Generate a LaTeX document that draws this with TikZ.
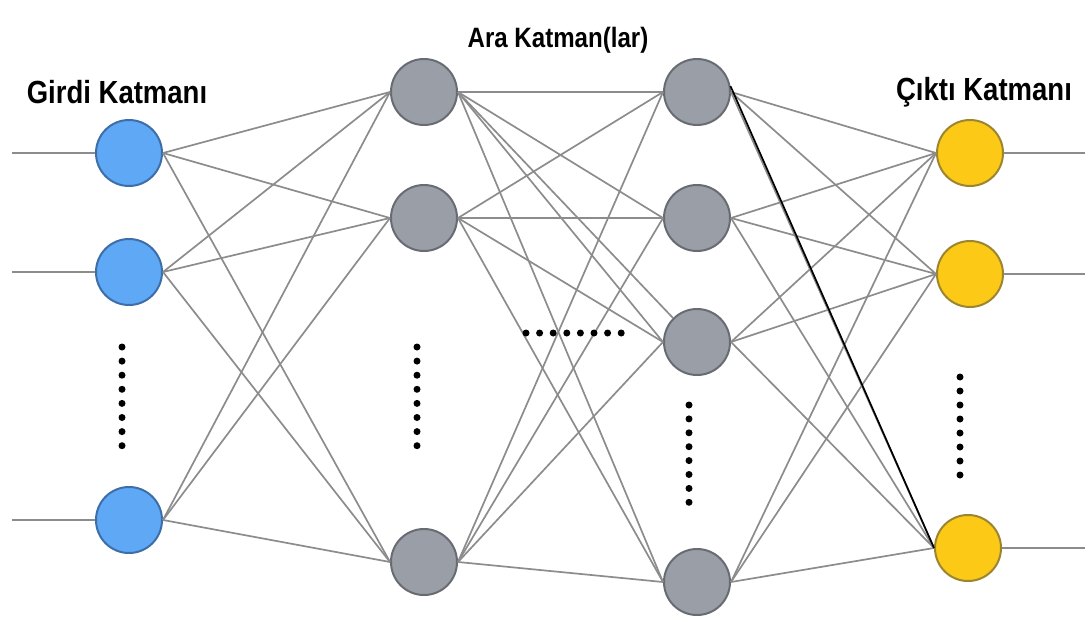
\documentclass[tikz,border=0pt]{standalone}
\usepackage{fontspec}
\usepackage{graphicx}
\setmainfont{Liberation Sans}

\definecolor{inpfill}{HTML}{5EA8F5}
\definecolor{inpedge}{HTML}{3D6EA8}
\definecolor{hidfill}{HTML}{9A9FA7}
\definecolor{hidedge}{HTML}{686C72}
\definecolor{outfill}{HTML}{FCCA16}
\definecolor{outedge}{HTML}{9C8530}
\definecolor{linkgray}{HTML}{8C8C8C}

% narrow bold heading
\newcommand{\layername}[2]{\scalebox{0.86}[1]{\bfseries\fontsize{#1}{#1}\selectfont #2}}

\begin{document}
\begin{tikzpicture}[x=0.5pt,y=-0.5pt,
    unit/.style={circle,line width=1pt,minimum size=33pt,inner sep=0pt},
    inp/.style={unit,draw=inpedge,fill=inpfill},
    hid/.style={unit,draw=hidedge,fill=hidfill},
    outp/.style={unit,draw=outedge,fill=outfill},
    link/.style={draw=linkgray,line width=0.85pt}
]
\useasboundingbox (0,0) rectangle (1092,621);

% layers
\node[inp] (i1) at (129,153) {};
\node[inp] (i2) at (129,272) {};
\node[inp] (i3) at (129,520) {};

\node[hid] (h1a) at (424,92) {};
\node[hid] (h1b) at (424,218) {};
\node[hid] (h1c) at (424,562) {};

\node[hid] (h2a) at (697,92) {};
\node[hid] (h2b) at (697,218) {};
\node[hid] (h2c) at (697,342) {};
\node[hid] (h2d) at (697,582) {};

\node[outp] (o1) at (970,153) {};
\node[outp] (o2) at (970,274) {};
\node[outp] (o3) at (968,548) {};

% free ends of the in/out lines
\coordinate (x1) at (12,153);
\coordinate (x2) at (12,272);
\coordinate (x3) at (12,520);
\coordinate (y1) at (1085,153);
\coordinate (y2) at (1085,274);
\coordinate (y3) at (1085,548);

\foreach \k in {1,2,3} {
  \draw[link] (x\k) -- (i\k.west);
  \draw[link] (o\k.east) -- (y\k);
}

% weights
\foreach \a in {i1,i2,i3}
  \foreach \b in {h1a,h1b,h1c}
    \draw[link] (\a.east) -- (\b.west);
\foreach \a in {h1a,h1b,h1c}
  \foreach \b in {h2a,h2b,h2c,h2d}
    \draw[link] (\a.east) -- (\b.west);
\draw[link] (h1a.east) -- (h2c.135);
\foreach \a in {h2a,h2b,h2c,h2d}
  \foreach \b in {o1,o2,o3}
    \draw[link] (\a.east) -- (\b.west);
\draw[black,line width=0.85pt] (h2a.10) -- (o3.west);

% skipped units
\foreach \n in {0,...,7} {
  \fill (122,347+14.1*\n) circle (3.5);
  \fill (417,347+14.1*\n) circle (3.5);
  \fill (689,405+13.9*\n) circle (3.5);
  \fill (960,377+14*\n) circle (3.5);
  \fill (526+13.6*\n,333) circle (3.5);
}

% layer names
\node (tin) at (117,92) {\layername{16}{Girdi Katmanı}};
\node (thid) at (558,40) {\layername{14}{Ara Katman(lar)}};
\node (tout) at (984,92) {\layername{16}{Çıktı Katmanı}};

\end{tikzpicture}
\end{document}
